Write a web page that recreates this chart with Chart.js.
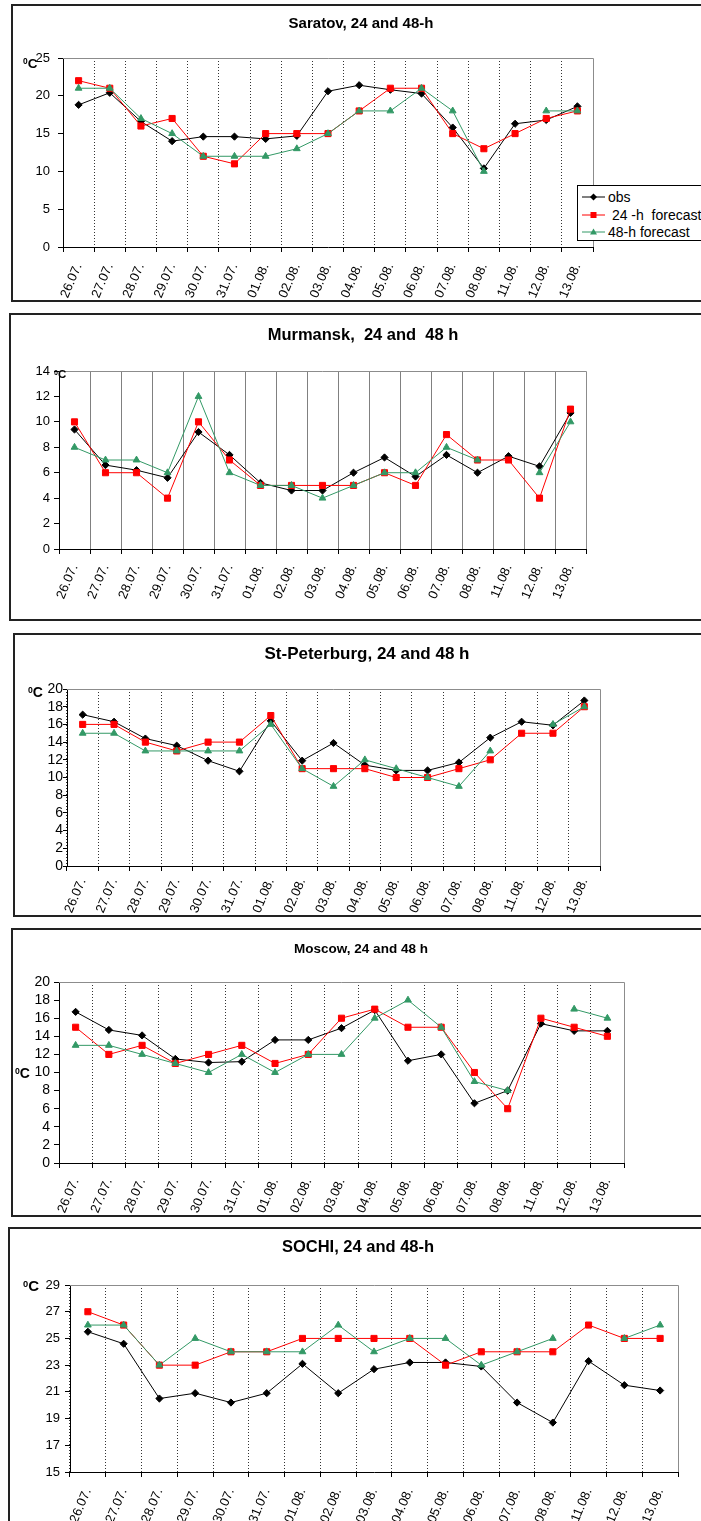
<!DOCTYPE html>
<html>
<head>
<meta charset="utf-8">
<script src="https://cdn.jsdelivr.net/npm/chart.js@4.4.0/dist/chart.umd.min.js"></script>
<style>
html, body { margin: 0; padding: 0; background: #fff; overflow: hidden; }
body { width: 701px; height: 1521px; position: relative; font-family: "Liberation Sans", Arial, sans-serif; color: #000; }
.panel { position: absolute; border: 2px solid #222; box-sizing: border-box; background: #fff; }
.panel canvas { position: absolute; left: 0; top: 0; }
.title { position: absolute; font-weight: bold; white-space: pre; line-height: 1; transform: translateX(-50%); }
.unit { position: absolute; font-weight: bold; line-height: 1; white-space: pre; }
.unit span { position: relative; top: -0.45em; font-size: 0.62em; }
#legend { position: absolute; left: 577px; top: 185px; width: 140px; height: 56px; border: 1px solid #000; background: #fff; box-sizing: border-box; font-size: 14px; }
#legend .row { position: absolute; left: 0; height: 16px; line-height: 16px; white-space: pre; }
#legend svg { position: absolute; left: 4px; top: 3px; }
#legend .txt { position: absolute; left: 30px; top: 0; }
</style>
</head>
<body>
<script>
// dates on the x axis
const dates = ['26.07.', '27.07.', '28.07.', '29.07.', '30.07.', '31.07.', '01.08.', '02.08.', '03.08.',
  '04.08.', '05.08.', '06.08.', '07.08.', '08.08.', '11.08.', '12.08.', '13.08.'];

// Saratov
const saratovObs = [18.8, 20.4, 16.6, 14.0, 14.6, 14.6, 14.3, 14.7, 20.6, 21.4, 20.8, 20.3, 15.8, 10.4, 16.3, 16.8, 18.6];
const saratov24 = [22, 21, 16, 17, 12, 11, 15, 15, 15, 18, 21, 21, 15, 13, 15, 17, 18];
const saratov48 = [21, 21, 17, 15, 12, 12, 12, 13, 15, 18, 18, 21, 18, 10, null, 18, 18];

// Murmansk
const murmanskObs = [9.4, 6.6, 6.2, 5.6, 9.2, 7.4, 5.2, 4.6, 4.6, 6.0, 7.2, 5.7, 7.4, 6.0, 7.3, 6.5, 10.7];
const murmansk24 = [10, 6, 6, 4, 10, 7, 5, 5, 5, 5, 6, 5, 9, 7, 7, 4, 11];
const murmansk48 = [8, 7, 7, 6, 12, 6, 5, 5, 4, 5, 6, 6, 8, 7, null, 6, 10];

// St-Peterburg
const stpetObs = [17.1, 16.3, 14.4, 13.6, 11.9, 10.7, 16.4, 11.9, 13.9, 11.4, 10.8, 10.8, 11.7, 14.5, 16.3, 15.9, 18.7];
const stpet24 = [16, 16, 14, 13, 14, 14, 17, 11, 11, 11, 10, 10, 11, 12, 15, 15, 18];
const stpet48 = [15, 15, 13, 13, 13, 13, 16, 11, 9, 12, 11, 10, 9, 13, null, 16, 18];

// Moscow
const moscowObs = [16.7, 14.7, 14.1, 11.5, 11.1, 11.2, 13.6, 13.6, 14.9, 16.9, 11.3, 12.0, 6.6, 8.0, 15.4, 14.6, 14.6];
const moscow24 = [15, 12, 13, 11, 12, 13, 11, 12, 16, 17, 15, 15, 10, 6, 16, 15, 14];
const moscow48 = [13, 13, 12, 11, 10, 12, 10, 12, 12, 16, 18, 15, 9, 8, null, 17, 16];

// Sochi
const sochiObs = [25.5, 24.6, 20.5, 20.9, 20.2, 20.9, 23.1, 20.9, 22.7, 23.2, 23.2, 22.9, 20.2, 18.7, 23.3, 21.5, 21.1];
const sochi24 = [27, 26, 23, 23, 24, 24, 25, 25, 25, 25, 23, 24, 24, 24, 26, 25, 25];
const sochi48 = [26, 26, 23, 25, 24, 24, 24, 26, 24, 25, 25, 23, 24, 25, null, 25, 26];

const seriesNames = ['obs', ' 24 -h  forecast', '48-h forecast'];

Chart.defaults.font.family = '"Liberation Sans", Arial, sans-serif';
Chart.defaults.color = '#000';

// gray top/right edge of the plot area
const frame = {
  id: 'frame',
  beforeDatasetsDraw(chart) {
    const { ctx, chartArea: a } = chart;
    ctx.save();
    ctx.strokeStyle = '#8c8c8c';
    ctx.lineWidth = 1;
    ctx.beginPath();
    ctx.moveTo(a.left, a.top + 0.5);
    ctx.lineTo(Math.round(a.right) + 0.5, a.top + 0.5);
    ctx.lineTo(Math.round(a.right) + 0.5, a.bottom);
    ctx.stroke();
    ctx.restore();
  }
};

// page layout of the five panels (pixels)
const panels = [
  { title: 'Saratov, 24 and 48-h', series: [saratovObs, saratov24, saratov48], yMin: 0, yMax: 25, yStep: 5,
    box: [11, 4, 302], plot: [63, 58, 593, 247], titleFont: 15, titleX: 361, titleY: 22,
    unitX: 23, unitY: 68, unitFont: 13.5, yFont: 13, yPad: 8, tick: 5, xPad: 9, grid: '#333', dash: [1, 2] },
  { title: 'Murmansk,  24 and  48 h', series: [murmanskObs, murmansk24, murmansk48], yMin: 0, yMax: 14, yStep: 2,
    box: [9, 313, 621], plot: [59, 371, 586, 549], titleFont: 16.5, titleX: 363, titleY: 334,
    unitX: 54, unitY: 379, unitFont: 11.5, yFont: 13, yPad: 4, tick: 5, xPad: 8, grid: '#808080', dash: [] },
  { title: 'St-Peterburg, 24 and 48 h', series: [stpetObs, stpet24, stpet48], yMin: 0, yMax: 20, yStep: 2,
    box: [13, 633, 917], plot: [67, 689, 600, 866], titleFont: 17, titleX: 367, titleY: 653,
    unitX: 28, unitY: 697, unitFont: 14, yFont: 14, yPad: 0, tick: 4, xPad: 5, grid: '#333', dash: [1, 2] },
  { title: 'Moscow, 24 and 48 h', series: [moscowObs, moscow24, moscow48], yMin: 0, yMax: 20, yStep: 2,
    box: [11, 928, 1217], plot: [59, 982, 624, 1163], titleFont: 13.5, titleX: 361, titleY: 949,
    unitX: 15, unitY: 1078, unitFont: 14, yFont: 14, yPad: 4, tick: 5, xPad: 8, grid: '#333', dash: [1, 2] },
  { title: 'SOCHI, 24 and 48-h', series: [sochiObs, sochi24, sochi48], yMin: 15, yMax: 29, yStep: 2,
    box: [8, 1227, 1545], plot: [70, 1285, 678, 1472], titleFont: 16.5, titleX: 358, titleY: 1246,
    unitX: 23, unitY: 1291, unitFont: 15, yFont: 13, yPad: 5, tick: 5, xPad: 9, grid: '#333', dash: [1, 2] }
];

panels.forEach(p => {
  const [bl, bt, bb] = p.box;
  const [pl, pt, pr, pb] = p.plot;

  const panel = document.createElement('div');
  panel.className = 'panel';
  panel.style.left = bl + 'px';
  panel.style.top = bt + 'px';
  panel.style.width = (760 - bl) + 'px';
  panel.style.height = (bb - bt) + 'px';
  document.body.appendChild(panel);

  const cl = bl + 2, ct = bt + 2, cw = 745 - cl, ch = bb - bt - 4;
  const canvas = document.createElement('canvas');
  canvas.width = cw;
  canvas.height = ch;
  canvas.style.width = cw + 'px';
  canvas.style.height = ch + 'px';
  panel.appendChild(canvas);

  const title = document.createElement('div');
  title.className = 'title';
  title.textContent = p.title;
  title.style.fontSize = p.titleFont + 'px';
  title.style.left = p.titleX + 'px';
  title.style.top = (p.titleY - 0.49 * p.titleFont) + 'px';
  document.body.appendChild(title);

  const unit = document.createElement('div');
  unit.className = 'unit';
  unit.innerHTML = '<span>0</span>C';
  unit.style.fontSize = p.unitFont + 'px';
  unit.style.left = p.unitX + 'px';
  unit.style.top = (p.unitY - 0.85 * p.unitFont) + 'px';
  document.body.appendChild(unit);

  new Chart(canvas, {
    type: 'line',
    data: {
      labels: dates,
      datasets: [
        { label: seriesNames[0], data: p.series[0], borderColor: '#000', backgroundColor: '#000',
          pointStyle: 'rectRot', pointRadius: 3.6, order: 2 },
        { label: seriesNames[1], data: p.series[1], borderColor: '#ff0000', backgroundColor: '#ff0000',
          pointStyle: 'rect', pointRadius: 4.3, order: 1 },
        { label: seriesNames[2], data: p.series[2], borderColor: '#339966', backgroundColor: '#339966',
          pointStyle: 'triangle', pointRadius: 3.9, order: 0 }
      ]
    },
    options: {
      responsive: false,
      animation: false,
      events: [],
      layout: { padding: { top: pt - ct, left: 0, right: cw - (pr - cl), bottom: 0 } },
      elements: {
        line: { borderWidth: 1, tension: 0 },
        point: { borderWidth: 1, hoverRadius: 0 }
      },
      plugins: { legend: { display: false }, title: { display: false }, tooltip: { enabled: false } },
      scales: {
        x: {
          type: 'category',
          offset: true,
          grid: {
            offset: true,
            color: c => c.index === undefined ? 'rgba(0,0,0,0)' : p.grid,
            lineWidth: 1,
            tickLength: 5,
            tickColor: '#000',
            tickBorderDash: []
          },
          border: { color: '#000', width: 1, dash: p.dash },
          ticks: { autoSkip: false, minRotation: 67, maxRotation: 67, padding: p.xPad, font: { size: 13 } },
          afterFit: s => { s.height = ct + ch - pb; }
        },
        y: {
          min: p.yMin,
          max: p.yMax,
          grid: { drawOnChartArea: false, tickLength: p.tick, tickColor: '#000' },
          border: { color: '#000', width: 1 },
          ticks: { stepSize: p.yStep, autoSkip: false, padding: p.yPad, font: { size: p.yFont } },
          afterFit: s => { s.width = pl - cl; }
        }
      }
    },
    plugins: [frame]
  });
});

// Saratov legend box
const legendRows = [
  { name: seriesNames[0], color: '#000', mark: '<path d="M11.5 1.5 L15 5 L11.5 8.5 L8 5 Z" fill="#000"/>' },
  { name: seriesNames[1], color: '#ff0000', mark: '<rect x="8.5" y="2" width="6" height="6" fill="#ff0000"/>' },
  { name: seriesNames[2], color: '#339966', mark: '<path d="M11.5 1.5 L15 7.5 L8 7.5 Z" fill="#339966"/>' }
];
const legendTops = [3, 21, 38];
const legend = document.createElement('div');
legend.id = 'legend';
legendRows.forEach((r, i) => {
  const row = document.createElement('div');
  row.className = 'row';
  row.style.top = legendTops[i] + 'px';
  row.innerHTML = '<svg width="23" height="10"><line x1="0" y1="5" x2="23" y2="5" stroke="' + r.color +
    '" stroke-width="1"/>' + r.mark + '</svg><span class="txt"></span>';
  row.querySelector('.txt').textContent = r.name;
  legend.appendChild(row);
});
document.body.appendChild(legend);
</script>
</body>
</html>
